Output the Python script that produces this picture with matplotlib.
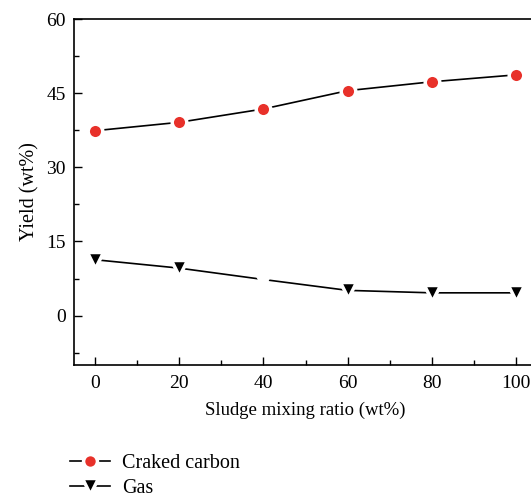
import matplotlib
matplotlib.use("Agg")
import matplotlib.pyplot as plt
from matplotlib.ticker import MultipleLocator
from matplotlib.lines import Line2D

plt.rcParams['font.family'] = ['Liberation Serif', 'DejaVu Serif']

ratio = [0, 20, 40, 60, 80, 100]
carbon = [37.4, 39.1, 41.8, 45.5, 47.3, 48.7]
gas = [11.3, 9.6, 7.3, 5.1, 4.6, 4.6]
gas_shown = [0, 1, 3, 4, 5]
gas_hidden = [2]
xticks = [0, 20, 40, 60, 80, 100]
yticks = [0, 15, 30, 45, 60]

red = '#e8312a'
fig = plt.figure(figsize=(5.31, 4.96), dpi=100)
ax = fig.add_axes([74/531, 131/496, 463/531, 346/496])

# lines
ax.plot(ratio, carbon, color='black', lw=1.2, zorder=2)
ax.plot(ratio, gas, color='black', lw=1.2, zorder=2)
# markers with white edges creating a gap to the line
ax.plot(ratio, carbon, 'o', ms=10.5, mfc=red, mec='white', mew=2.5, zorder=3)
ax.plot(ratio, gas, 'v', ms=12, mfc='black', mec='white', mew=2.5,
        markevery=gas_shown, zorder=3)
ax.plot(ratio, gas, 'v', ms=12, mfc='white', mec='white', mew=2.5,
        markevery=gas_hidden, zorder=3)

ax.set_xlim(-5, 105)
ax.set_ylim(-10, 60)
ax.set_xticks(xticks)
ax.set_yticks(yticks)
ax.xaxis.set_minor_locator(MultipleLocator(10))
ax.yaxis.set_minor_locator(MultipleLocator(7.5))
ax.tick_params(which='both', direction='in', labelsize=14, width=1, colors='black')
ax.tick_params(which='major', length=6)
ax.tick_params(which='minor', length=3.5)
ax.tick_params(axis='x', pad=7)
ax.tick_params(axis='y', pad=6)
ax.spines['right'].set_visible(False)
for s in ['left', 'bottom', 'top']:
    ax.spines[s].set_linewidth(1.2)

ax.set_xlabel('Sludge mixing ratio (wt%)', fontsize=13.5, labelpad=7)
ax.set_ylabel('Yield (wt%)', fontsize=14.5, labelpad=5)

handles = [
    Line2D([0], [0], color='black', lw=1.2, marker='o', ms=10, mfc=red, mec='white', mew=2.5),
    Line2D([0], [0], color='black', lw=1.2, marker='v', ms=11, mfc='black', mec='white', mew=2.5),
]
fig.legend(handles, ['Craked carbon', 'Gas'], loc='upper left',
           bbox_to_anchor=(70/531, 1 - 454/496), frameon=False,
           fontsize=14.5, handlelength=2.0, handletextpad=0.6,
           labelspacing=0.3, borderaxespad=0, borderpad=0)

fig.savefig('out.png', dpi=100)
